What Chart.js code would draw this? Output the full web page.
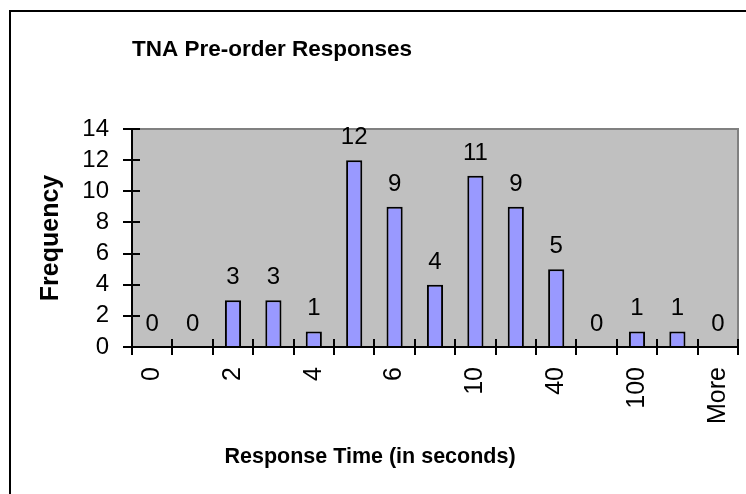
<!DOCTYPE html>
<html>
<head>
<meta charset="utf-8">
<title>TNA Pre-order Responses</title>
<script src="https://cdn.jsdelivr.net/npm/chart.js@4/dist/chart.umd.min.js"></script>
<style>
  body { margin: 0; background: #fff; }
  #wrap { position: relative; width: 746px; height: 494px; overflow: hidden; }
  #frame { position: absolute; left: 9px; top: 10px; width: 800px; height: 600px;
           border-left: 2px solid #000; border-top: 2px solid #000; }
  #chart { position: absolute; left: 0; top: 0; }
</style>
</head>
<body>
<div id="wrap">
  <div id="frame"></div>
  <canvas id="chart" width="746" height="494"></canvas>
</div>
<script>
// histogram bins (only every second label is shown on the axis)
const binLabels = ['0', '', '2', '', '4', '', '6', '', '10', '', '40', '', '100', '', 'More'];
const frequency = [0, 0, 3, 3, 1, 12, 9, 4, 11, 9, 5, 0, 1, 1, 0];

const chartTitle = 'TNA Pre-order Responses';
const xTitle = 'Response Time (in seconds)';
const yTitle = 'Frequency';
const yMin = 0;
const yMax = 14;
const yStep = 2;

const fontFamily = '"Liberation Sans", Arial, sans-serif';
Chart.defaults.font.family = fontFamily;
Chart.defaults.color = '#000';

// grey plot area with darker top/right edge, like the old Excel chart
const plotBackground = {
  id: 'plotBackground',
  beforeDraw(chart) {
    const { ctx, chartArea: a } = chart;
    ctx.save();
    ctx.fillStyle = '#c0c0c0';
    ctx.fillRect(a.left, a.top, a.right - a.left, a.bottom - a.top);
    ctx.strokeStyle = '#808080';
    ctx.lineWidth = 2;
    ctx.beginPath();
    ctx.moveTo(a.left, a.top);
    ctx.lineTo(a.right, a.top);
    ctx.lineTo(a.right, a.bottom);
    ctx.stroke();
    ctx.restore();
  }
};

// tick marks cross the axes, so draw the inner half too
const crossTicks = {
  id: 'crossTicks',
  beforeDatasetsDraw(chart) {
    const { ctx, chartArea: a, scales: { x, y } } = chart;
    ctx.save();
    ctx.strokeStyle = '#000';
    ctx.lineWidth = 2;
    ctx.beginPath();
    for (let i = 0; i <= binLabels.length; i++) {
      const px = Math.round(x.getPixelForValue(i - 0.5));
      ctx.moveTo(px, a.bottom);
      ctx.lineTo(px, a.bottom - 8);
    }
    for (let v = yMin; v <= yMax; v += yStep) {
      const py = Math.round(y.getPixelForValue(v));
      ctx.moveTo(a.left, py);
      ctx.lineTo(a.left + 8, py);
    }
    ctx.stroke();
    ctx.restore();
  }
};

// value labels above each bar
const barValues = {
  id: 'barValues',
  afterDatasetsDraw(chart) {
    const { ctx } = chart;
    const meta = chart.getDatasetMeta(0);
    ctx.save();
    ctx.font = '24px ' + fontFamily;
    ctx.fillStyle = '#000';
    ctx.textAlign = 'center';
    ctx.textBaseline = 'alphabetic';
    meta.data.forEach((bar, i) => {
      ctx.fillText(String(frequency[i]), bar.x, bar.y - 16);
    });
    ctx.restore();
  }
};

// x axis title sits centred on the whole chart, not on the plot area
const xAxisTitle = {
  id: 'xAxisTitle',
  afterDraw(chart) {
    const { ctx } = chart;
    ctx.save();
    ctx.font = 'bold 21.5px ' + fontFamily;
    ctx.fillStyle = '#000';
    ctx.textAlign = 'center';
    ctx.textBaseline = 'alphabetic';
    ctx.fillText(xTitle, chart.width / 2 - 3, 463);
    ctx.restore();
  }
};

const ctx = document.getElementById('chart').getContext('2d');
const myChart = new Chart(ctx, {
  type: 'bar',
  data: {
    labels: binLabels,
    datasets: [{
      label: yTitle,
      data: frequency,
      backgroundColor: '#9999ff',
      borderColor: '#000',
      borderWidth: 2,
      barPercentage: 0.4,
      categoryPercentage: 1.0
    }]
  },
  options: {
    responsive: false,
    animation: false,
    devicePixelRatio: 1,
    layout: { padding: { left: 0, right: 8, top: 0, bottom: 0 } },
    plugins: {
      legend: { display: false },
      tooltip: { enabled: false },
      title: {
        display: true,
        text: chartTitle,
        align: 'start',
        fullSize: false,
        color: '#000',
        font: { size: 22.5, weight: 'bold' },
        padding: { top: 36, bottom: 66 }
      }
    },
    scales: {
      x: {
        grid: { display: true, drawOnChartArea: false, drawTicks: true, tickLength: 8, color: '#000', lineWidth: 2, offset: true },
        border: { display: true, color: '#000', width: 2 },
        ticks: { autoSkip: false, minRotation: 90, maxRotation: 90, padding: 12, color: '#000', font: { size: 25 } },
        afterFit(scale) {
          scale.height = 147;
          scale.paddingLeft = 0;
          scale.paddingRight = 0;
        }
      },
      y: {
        min: yMin,
        max: yMax,
        grid: { display: true, drawOnChartArea: false, drawTicks: true, tickLength: 9, color: '#000', lineWidth: 2 },
        border: { display: true, color: '#000', width: 2 },
        ticks: { stepSize: yStep, autoSkip: false, padding: 14, color: '#000', font: { size: 24 } },
        title: { display: true, text: yTitle, color: '#000', font: { size: 25, weight: 'bold' }, padding: { top: 36, bottom: 0 } },
        afterFit(scale) { scale.width = 132; }
      }
    }
  },
  plugins: [plotBackground, crossTicks, barValues, xAxisTitle]
});
</script>
</body>
</html>
